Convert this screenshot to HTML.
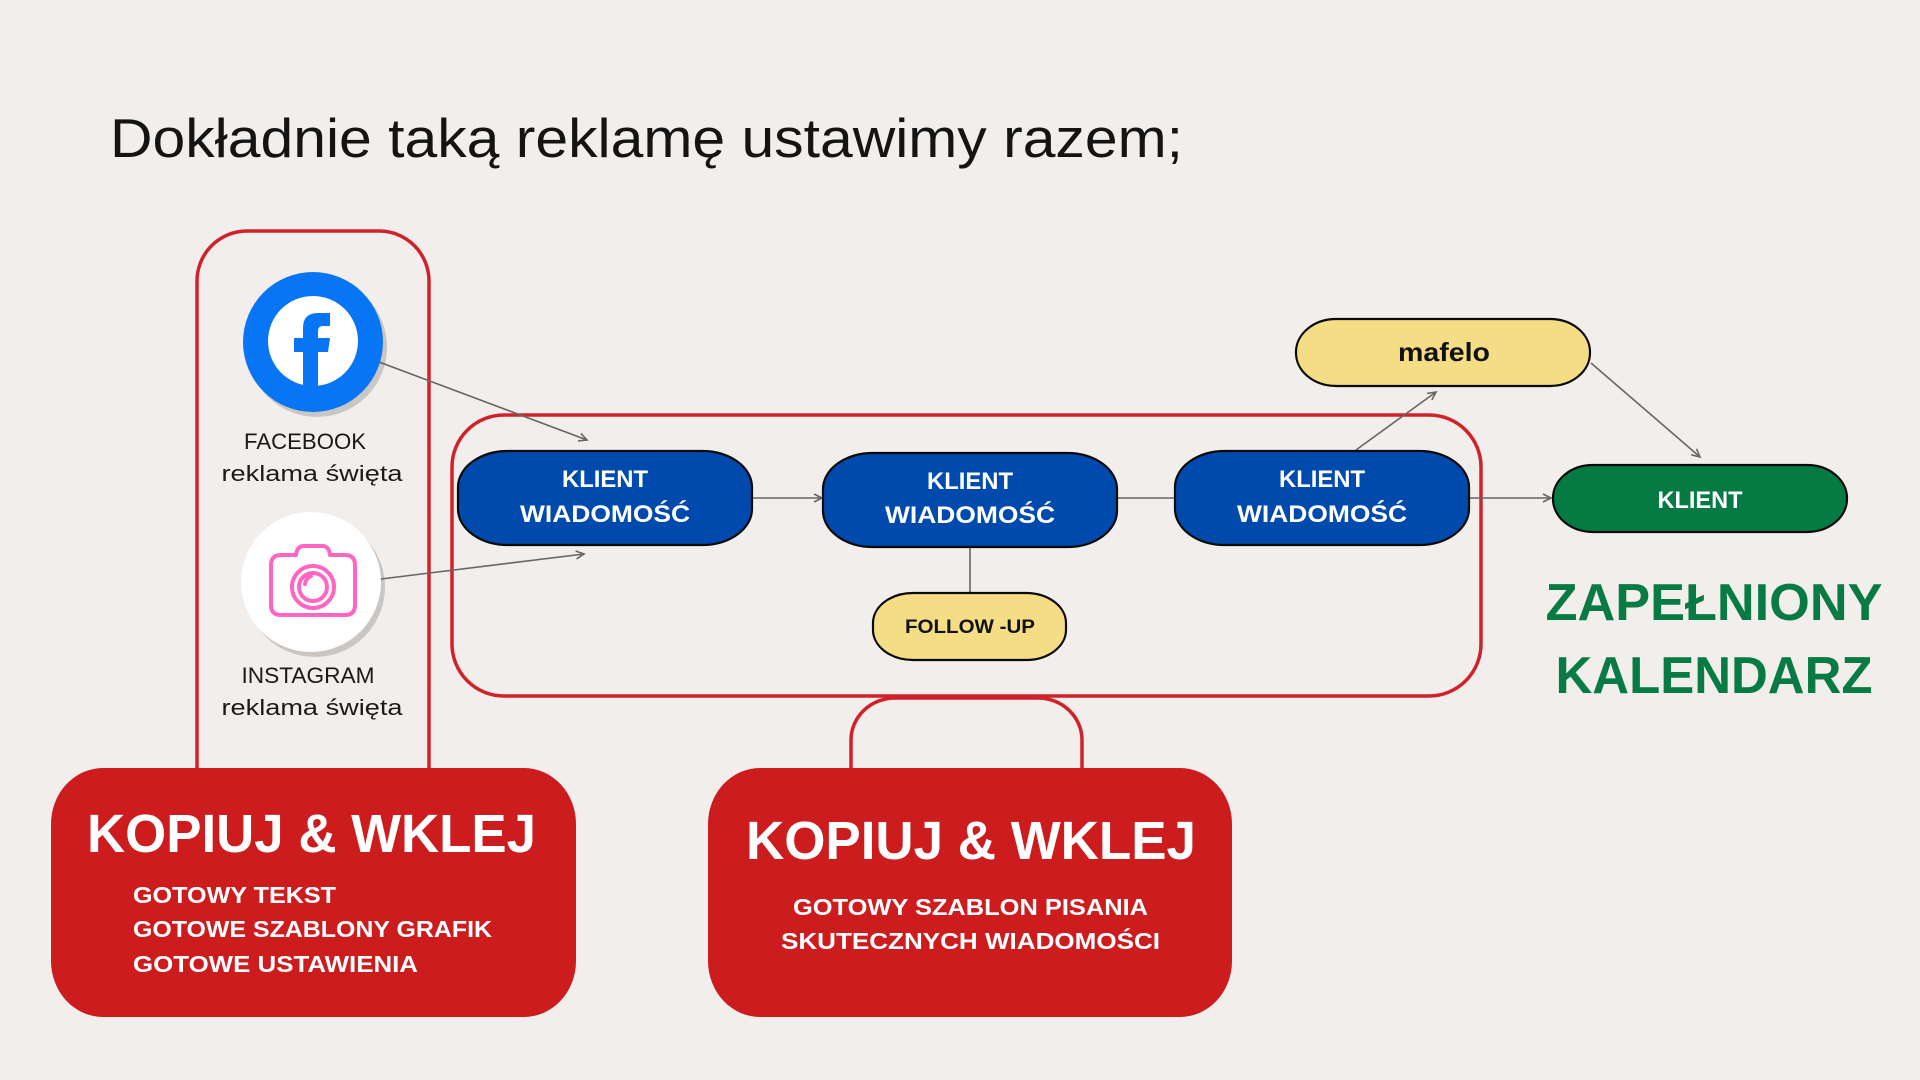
<!DOCTYPE html>
<html><head><meta charset="utf-8"><style>
html,body{margin:0;padding:0;background:#f1eeeb;}
svg{display:block;}
text{font-family:"Liberation Sans",Arial,sans-serif;}
</style></head><body>
<svg width="1920" height="1080" viewBox="0 0 1920 1080" xmlns="http://www.w3.org/2000/svg">
<defs>
<marker id="ar" markerWidth="12" markerHeight="12" refX="9" refY="5" orient="auto" markerUnits="userSpaceOnUse">
<path d="M1,1 L9,5 L1,9" fill="none" stroke="#666" stroke-width="1.6"/>
</marker>
</defs>
<rect width="1920" height="1080" fill="#f1eeeb"/>

<!-- Title -->
<text x="110" y="157" font-size="55" fill="#141414" textLength="1073" lengthAdjust="spacingAndGlyphs">Dokładnie taką reklamę ustawimy razem;</text>

<!-- Left outline box -->
<path d="M197,775 L197,281 A50,50 0 0 1 247,231 L379,231 A50,50 0 0 1 429,281 L429,775" fill="none" stroke="#d0222a" stroke-width="3.5"/>

<!-- Middle outline box -->
<rect x="452" y="415" width="1029" height="281" rx="52" ry="52" fill="none" stroke="#d0222a" stroke-width="3.5"/>

<!-- Tab above right red box -->
<path d="M851,772 L851,740 A44,42 0 0 1 895,698 L1038,698 A44,42 0 0 1 1082,740 L1082,772" fill="none" stroke="#d0222a" stroke-width="3.5"/>

<!-- Facebook icon -->
<circle cx="317" cy="347" r="70" fill="#c9c6c3"/>
<circle cx="313" cy="342" r="70" fill="#0876f4"/>
<circle cx="313" cy="341" r="45" fill="#ffffff"/>
<path d="M303,386 L303,352 L294,352 L294,338 L303,338 L303,328 Q303,313 318,313 L330,313 L330,326 L323,326 Q318,326 318,331 L318,338 L330,338 L328,352 L318,352 L318,386 Z" fill="#0876f4"/>

<!-- Facebook text -->
<text x="305" y="449" font-size="22" fill="#1a1a1a" text-anchor="middle" textLength="122" lengthAdjust="spacingAndGlyphs">FACEBOOK</text>
<text x="312" y="481" font-size="22" fill="#1a1a1a" text-anchor="middle" textLength="181" lengthAdjust="spacingAndGlyphs">reklama święta</text>

<!-- Instagram icon -->
<circle cx="315" cy="587" r="70" fill="#c9c6c3"/>
<circle cx="311" cy="582" r="70" fill="#ffffff"/>
<g fill="none" stroke="#ff66c4" stroke-width="4" stroke-linejoin="round">
<path d="M281,555 L296,555 Q297,546 304,546 L322,546 Q329,546 330,555 L345,555 Q355,555 355,565 L355,605 Q355,615 345,615 L281,615 Q271,615 271,605 L271,565 Q271,555 281,555 Z"/>
<circle cx="313" cy="587" r="21"/>
<circle cx="313" cy="587" r="14"/>
<path d="M305,584 Q306,578 311,576" stroke-linecap="round"/>
</g>

<!-- Instagram text -->
<text x="308" y="683" font-size="22" fill="#1a1a1a" text-anchor="middle" textLength="133" lengthAdjust="spacingAndGlyphs">INSTAGRAM</text>
<text x="312" y="715" font-size="22" fill="#1a1a1a" text-anchor="middle" textLength="181" lengthAdjust="spacingAndGlyphs">reklama święta</text>

<!-- Connectors -->
<g stroke="#666" stroke-width="1.6" fill="none">
<line x1="379" y1="362" x2="587" y2="440" marker-end="url(#ar)"/>
<line x1="381" y1="579" x2="584" y2="554" marker-end="url(#ar)"/>
<line x1="752" y1="498" x2="822" y2="498" marker-end="url(#ar)"/>
<line x1="1117" y1="498" x2="1175" y2="498"/>
<line x1="1469" y1="498" x2="1551" y2="498" marker-end="url(#ar)"/>
<line x1="970" y1="547" x2="970" y2="593"/>
<line x1="1356" y1="450" x2="1436" y2="392" marker-end="url(#ar)"/>
<line x1="1591" y1="363" x2="1700" y2="457" marker-end="url(#ar)"/>
</g>

<!-- Blue boxes -->
<g fill="#004aad" stroke="#0a0a0a" stroke-width="2.2">
<rect x="458" y="451" width="294" height="94" rx="50" ry="36"/>
<rect x="823" y="453" width="294" height="94" rx="50" ry="36"/>
<rect x="1175" y="451" width="294" height="94" rx="50" ry="36"/>
</g>
<g fill="#ffffff" font-weight="bold" font-size="24" text-anchor="middle">
<text x="605" y="487" textLength="86" lengthAdjust="spacingAndGlyphs">KLIENT</text>
<text x="605" y="522" textLength="170" lengthAdjust="spacingAndGlyphs">WIADOMOŚĆ</text>
<text x="970" y="489" textLength="86" lengthAdjust="spacingAndGlyphs">KLIENT</text>
<text x="970" y="523" textLength="170" lengthAdjust="spacingAndGlyphs">WIADOMOŚĆ</text>
<text x="1322" y="487" textLength="86" lengthAdjust="spacingAndGlyphs">KLIENT</text>
<text x="1322" y="522" textLength="170" lengthAdjust="spacingAndGlyphs">WIADOMOŚĆ</text>
</g>

<!-- FOLLOW-UP -->
<rect x="873" y="593" width="193" height="67" rx="40" ry="30" fill="#f5dd86" stroke="#0a0a0a" stroke-width="2.2"/>
<text x="970" y="633" font-size="19" font-weight="bold" fill="#111" text-anchor="middle" textLength="130" lengthAdjust="spacingAndGlyphs">FOLLOW -UP</text>

<!-- mafelo -->
<rect x="1296" y="319" width="294" height="67" rx="40" ry="33" fill="#f5dd86" stroke="#0a0a0a" stroke-width="2.2"/>
<text x="1444" y="361" font-size="26" font-weight="bold" fill="#111" text-anchor="middle" textLength="92" lengthAdjust="spacingAndGlyphs">mafelo</text>

<!-- Green KLIENT -->
<rect x="1553" y="465" width="294" height="67" rx="40" ry="33" fill="#067a43" stroke="#0a0a0a" stroke-width="2.2"/>
<text x="1700" y="508" font-size="24" font-weight="bold" fill="#ffffff" text-anchor="middle" textLength="85" lengthAdjust="spacingAndGlyphs">KLIENT</text>

<!-- ZAPEŁNIONY KALENDARZ -->
<text x="1714" y="620" font-size="52" font-weight="bold" fill="#087a43" text-anchor="middle" textLength="337" lengthAdjust="spacingAndGlyphs">ZAPEŁNIONY</text>
<text x="1714" y="693" font-size="52" font-weight="bold" fill="#087a43" text-anchor="middle" textLength="317" lengthAdjust="spacingAndGlyphs">KALENDARZ</text>

<!-- Bottom red boxes -->
<rect x="51" y="768" width="525" height="249" rx="52" ry="56" fill="#cc1c1e"/>
<rect x="708" y="768" width="524" height="249" rx="52" ry="56" fill="#cc1c1e"/>

<g fill="#ffffff" font-weight="bold">
<text x="87" y="852" font-size="54" textLength="449" lengthAdjust="spacingAndGlyphs">KOPIUJ &amp; WKLEJ</text>
<text x="133" y="903" font-size="23" textLength="203" lengthAdjust="spacingAndGlyphs">GOTOWY TEKST</text>
<text x="133" y="937" font-size="23" textLength="359" lengthAdjust="spacingAndGlyphs">GOTOWE SZABLONY GRAFIK</text>
<text x="133" y="972" font-size="23" textLength="285" lengthAdjust="spacingAndGlyphs">GOTOWE USTAWIENIA</text>

<text x="746" y="859" font-size="54" textLength="450" lengthAdjust="spacingAndGlyphs">KOPIUJ &amp; WKLEJ</text>
<text x="793" y="915" font-size="23" textLength="355" lengthAdjust="spacingAndGlyphs">GOTOWY SZABLON PISANIA</text>
<text x="781" y="949" font-size="23" textLength="379" lengthAdjust="spacingAndGlyphs">SKUTECZNYCH WIADOMOŚCI</text>
</g>
</svg>
</body></html>
